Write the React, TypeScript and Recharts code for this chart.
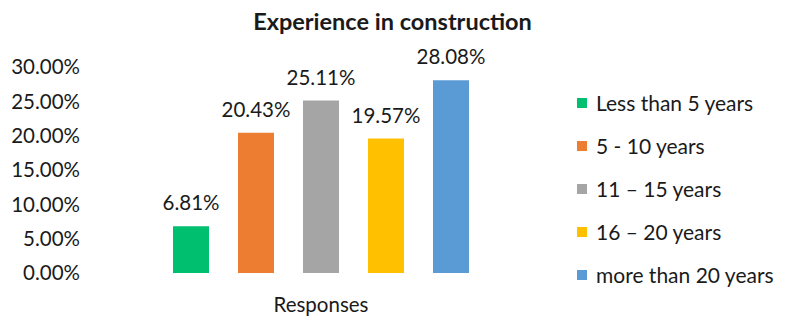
import React from 'react';
import { BarChart, Bar, XAxis, YAxis, LabelList } from 'recharts';

const categories = ['Responses'];
const seriesNames = ['Less than 5 years', '5 - 10 years', '11 – 15 years', '16 – 20 years', 'more than 20 years'];
const seriesValues = [6.81, 20.43, 25.11, 19.57, 28.08];
const seriesColors = ['#00BF6F', '#ED7D31', '#A5A5A5', '#FFC000', '#5B9BD5'];
const yTicks = [0, 5, 10, 15, 20, 25, 30];

const keys = seriesNames.map((_, i) => `s${i}`);
const data = categories.map((c) => {
  const row: any = { name: c };
  keys.forEach((k, i) => (row[k] = seriesValues[i]));
  return row;
});

const FONT = 'Lato, "Open Sans", sans-serif';
const TEXT = '#1a1a1a';
const FS = 20.5;
const fmt = (v: any) => `${Number(v).toFixed(2)}%`;

export default function App() {
  return (
    <div style={{ position: 'absolute', left: 0, top: 0, width: 785, height: 319, background: '#fff' }}>
      <div
        style={{
          position: 'absolute', left: 0, top: 6, width: 785, textAlign: 'center',
          fontFamily: FONT, fontWeight: 700, fontSize: 23.5, color: TEXT, lineHeight: '30px',
        }}
      >
        Experience in construction
      </div>
      <div
        style={{
          position: 'absolute', left: 577, top: 81, width: 208,
          fontFamily: FONT, fontSize: 21, color: TEXT,
        }}
      >
        {seriesNames.map((n, i) => (
          <div key={n} style={{ display: 'flex', alignItems: 'center', height: 43 }}>
            <span style={{ display: 'inline-block', width: 10, height: 10, background: seriesColors[i], marginRight: 9 }} />
            <span>{n}</span>
          </div>
        ))}
      </div>
      <BarChart
        width={785}
        height={319}
        data={data}
        margin={{ top: 67, right: 228, bottom: 0, left: 0 }}
        barGap={29}
        barSize={36}
        style={{ position: 'absolute', left: 0, top: 0 }}
      >
        <XAxis
          dataKey="name"
          axisLine={false}
          tickLine={false}
          tickSize={0}
          tickMargin={24}
          height={46}
          tick={{ fill: TEXT, fontFamily: FONT, fontSize: FS }}
        />
        <YAxis
          domain={[0, 30]}
          ticks={yTicks}
          tickFormatter={fmt}
          axisLine={false}
          tickLine={false}
          tickSize={0}
          tickMargin={5}
          width={85}
          tick={{ fill: TEXT, fontFamily: FONT, fontSize: FS }}
        />
        {keys.map((k, i) => (
          <Bar key={k} dataKey={k} name={seriesNames[i]} fill={seriesColors[i]} isAnimationActive={false}>
            <LabelList
              dataKey={k}
              position="top"
              offset={16}
              formatter={fmt}
              style={{ fill: TEXT, fontFamily: FONT, fontSize: FS }}
            />
          </Bar>
        ))}
      </BarChart>
    </div>
  );
}
